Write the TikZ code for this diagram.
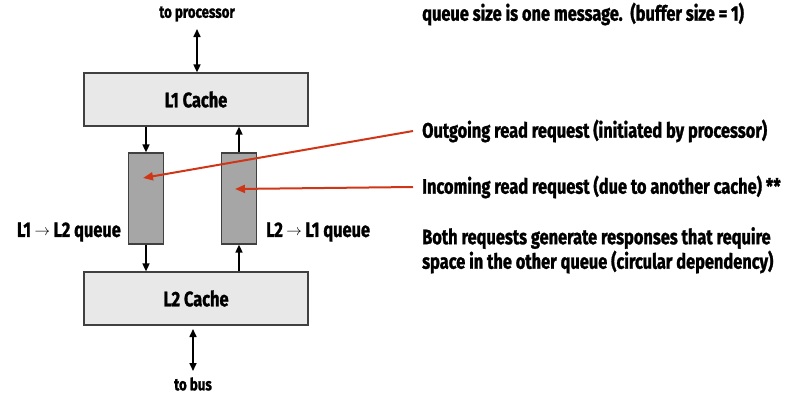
\documentclass[tikz,border=0pt]{standalone}
\usepackage{fontspec}
\setmainfont{Fira Sans}[FakeStretch=0.78,BoldFeatures={FakeBold=1.3}]
\usetikzlibrary{arrows.meta}
\definecolor{boxfill}{HTML}{E8E8E8}
\definecolor{qfill}{HTML}{A6A6A6}
\definecolor{edge}{HTML}{404040}
\definecolor{redc}{HTML}{CF3517}
\newcommand{\sarr}{\,\raisebox{1.5pt}{\scalebox{0.75}{$\mathbf{\rightarrow}$}}\,}
\begin{document}
\begin{tikzpicture}[x=1pt,y=-1pt,
  cache/.style={draw=edge,line width=1.2pt,fill=boxfill,minimum width=224pt,minimum height=53pt,font=\bfseries\fontsize{21}{24}\selectfont,inner sep=0pt},
  queue/.style={draw=edge,line width=1.2pt,fill=qfill,minimum width=35pt,minimum height=91pt,inner sep=0pt},
  lbl/.style={font=\bfseries\fontsize{21}{24.5}\selectfont,inner sep=0pt},
  small/.style={font=\bfseries\fontsize{17}{20}\selectfont,inner sep=0pt},
  blk/.style={line width=1.6pt,-{Triangle[length=8pt,width=7pt]}},
  dbl/.style={line width=1.6pt,{Triangle[length=8pt,width=7pt]}-{Triangle[length=8pt,width=7pt]}},
  red/.style={draw=redc,line width=2pt,-{Triangle[length=10pt,width=8pt]}}]
\useasboundingbox (0,0) rectangle (811,410);
\node[cache] (l1) at (196,99.5) {L1 Cache};
\node[cache] (l2) at (196,298.5) {L2 Cache};
\node[queue] (q1) at (146,198.5) {};
\node[queue] (q2) at (239,198.5) {};
\node[small] (tp) at (197,14) {to processor};
\node[small] (tb) at (193,384) {to bus};
\coordinate (tpa) at (197,29);
\coordinate (tba) at (193,329);
\draw[dbl] (tpa) -- (l1.north -| tpa);
\draw[dbl] (tba) -- ++(0,42);
\draw[blk] (l1.south -| q1) -- (q1.north);
\draw[blk] (q1.south) -- (l2.north -| q1);
\draw[blk] (l2.north -| q2) -- (q2.south);
\draw[blk] (q2.north) -- (l1.south -| q2);
\node[lbl,anchor=east] (ql1) at (121,232) {L1\sarr L2 queue};
\node[lbl,anchor=west] (ql2) at (266,232) {L2\sarr L1 queue};
\node[lbl,anchor=west] (t0) at (422,14) {queue size is one message.\ \ (buffer size = 1)};
\node[lbl,anchor=west] (t1) at (422,131) {Outgoing read request (initiated by processor)};
\node[lbl,anchor=west] (t2) at (422,187) {Incoming read request (due to another cache) **};
\node[lbl,anchor=north west,align=left] (t3) at (422,227) {Both requests generate responses that require\\space in the other queue (circular dependency)};
\coordinate (a1) at (143,178);
\coordinate (a2) at (235,189);
\draw[red] ([xshift=-9pt]t1.west) -- (a1);
\draw[red] ([xshift=-9pt]t2.west) -- (a2);
\end{tikzpicture}
\end{document}
